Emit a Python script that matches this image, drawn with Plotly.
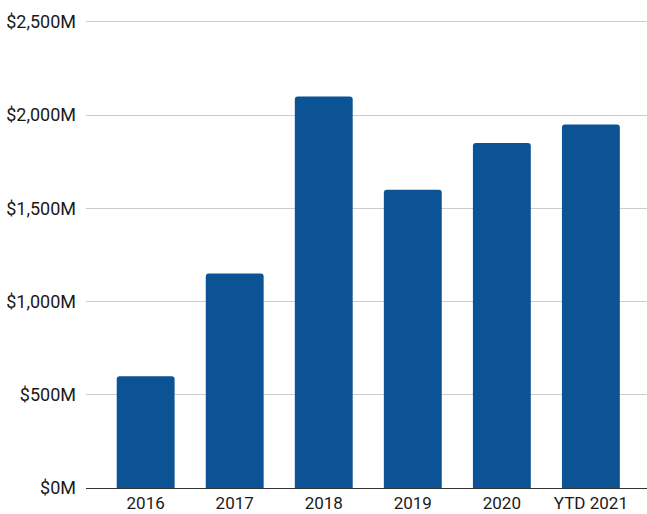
import plotly.graph_objects as go

categories = ["2016", "2017", "2018", "2019", "2020", "YTD 2021"]
values = [600, 1150, 2100, 1600, 1850, 1950]
tick_vals = [0, 500, 1000, 1500, 2000, 2500]
tick_text = ["$0M", "$500M", "$1,000M", "$1,500M", "$2,000M", "$2,500M"]

fig = go.Figure(
    go.Bar(x=categories, y=values, marker=dict(color="#0b5394", line=dict(width=0)))
)

fig.update_layout(
    width=647,
    height=514,
    margin=dict(l=86, r=0, t=20, b=26),
    paper_bgcolor="white",
    plot_bgcolor="white",
    bargap=0.35,
    barcornerradius=3,
    font=dict(family="Roboto", size=18, color="#1a1a1a"),
    showlegend=False,
)
fig.update_xaxes(
    range=[-0.67, 5.63],
    showgrid=False,
    showline=True,
    linecolor="#333333",
    linewidth=1,
    ticks="",
    tickfont=dict(size=17),
    ticklabelstandoff=0,
    automargin=False,
)
fig.update_yaxes(
    range=[0, 2510],
    tickvals=tick_vals,
    ticktext=tick_text,
    showgrid=True,
    gridcolor="#cccccc",
    gridwidth=1,
    zeroline=False,
    ticks="",
    ticklabelstandoff=9,
    automargin=False,
)

fig.write_html("out.html")
